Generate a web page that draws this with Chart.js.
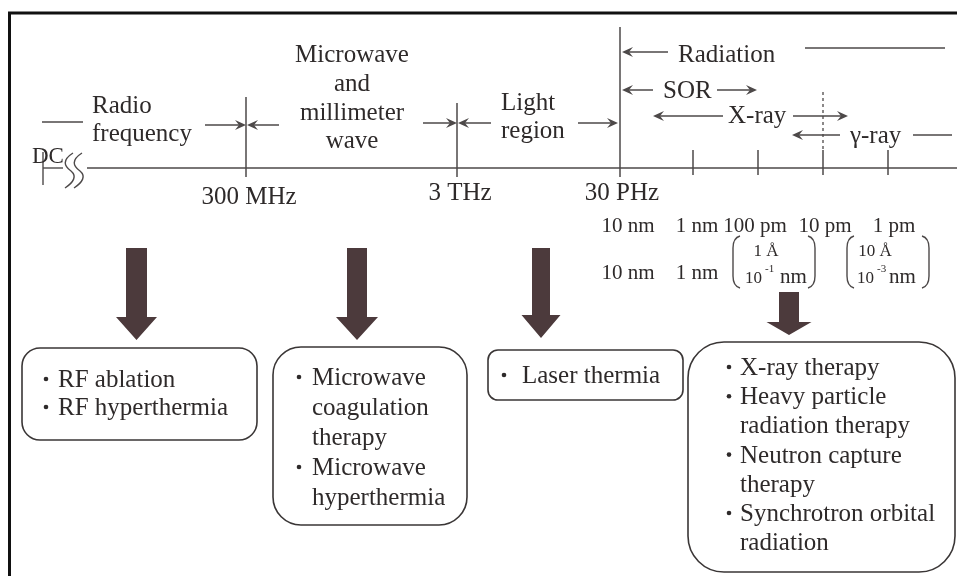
<!DOCTYPE html>
<html><head><meta charset="utf-8">
<script src="https://cdn.jsdelivr.net/npm/chart.js@4/dist/chart.umd.min.js"></script>
<style>html,body{margin:0;padding:0;background:#fff;overflow:hidden}#c{display:block}</style>
</head><body>
<canvas id="c" width="957" height="576"></canvas>
<script>
// ---------- DATA (text content) ----------
const bandNames = [['Radio', 'frequency'], ['Microwave', 'and', 'millimeter', 'wave'], ['Light', 'region'], ['Radiation']];
const subBandNames = ['SOR', 'X-ray', 'γ-ray'];
const boundaryLabels = ['300 MHz', '3 THz', '30 PHz'];
const wavelengthLabels = ['10 nm', '1 nm', '100 pm', '10 pm', '1 pm'];
const wavelengthLabelsNm = ['10 nm', '1 nm'];
const angstromLabels = ['1 Å', '10 Å'];
const angstromNmBase = ['10', '10'];
const angstromNmExp = ['-1', '-3'];
const therapyGroups = [
  [['RF ablation'], ['RF hyperthermia']],
  [['Microwave', 'coagulation', 'therapy'], ['Microwave', 'hyperthermia']],
  [['Laser thermia']],
  [['X-ray therapy'], ['Heavy particle', 'radiation therapy'], ['Neutron capture', 'therapy'], ['Synchrotron orbital', 'radiation']]
];

// ---------- LAYOUT (diagram units, mapped through the chart scales) ----------
const LAY = {
  axis: { y: 168, x0: 87, x1: 957, dcX: 43, dcY0: 152, dcY1: 185, dcLineEnd: 63 },
  boundaryX: [246, 457, 620], boundaryTop: [97, 103, 27], boundaryBottom: 177,
  boundaryLabelX: [249, 460, 622], boundaryLabelY: [204, 200, 200],
  ticksX: [693, 758, 823, 888], tickTop: 150, tickBottom: 175,
  dashed: { x: 823, y0: 92, y1: 150 },
  bandText: [
    { x: 92, align: 'left', ys: [113, 141] },
    { x: 352, align: 'center', ys: [62, 91, 120, 148] },
    { x: 501, align: 'left', ys: [110, 138] },
    { x: 678, align: 'left', ys: [62] }
  ],
  subText: [{ x: 663, y: 98 }, { x: 728, y: 123 }, { x: 850, y: 143 }],
  dcText: { x: 32, y: 163 },
  arrows: [ // [from, to, y] head at "to"
    [205, 246, 125], [279, 247, 125], [423, 457, 123], [491, 458, 123], [578, 618, 123],
    [668, 622, 52], [653, 622, 90], [717, 757, 90], [723, 653, 116], [793, 848, 116], [840, 792, 135]
  ],
  plainLines: [[42, 83, 122], [805, 945, 48], [913, 952, 135]],
  wlRow1: { xs: [628, 697, 755, 825, 894], y: 232 },
  wlRow2: { xs: [628, 697], y: 279 },
  angGroups: [
    { pl: 733, pr: 815, aCx: 766, base: 745, exp: 765, nm: 780 },
    { pl: 847, pr: 929, aCx: 875, base: 857, exp: 877, nm: 889 }
  ],
  angTop: 236, angBot: 288, angY: 256, nmY: 283,
  bigArrows: [
    { cx: 136.5, top: 248, sw: 21, headTop: 317, hw: 41, tip: 340 },
    { cx: 357, top: 248, sw: 20, headTop: 317, hw: 42, tip: 340 },
    { cx: 541, top: 248, sw: 18, headTop: 315, hw: 39, tip: 338 },
    { cx: 789, top: 292, sw: 20, headTop: 322, hw: 45, tip: 335 }
  ],
  boxes: [
    { x: 22, y: 348, w: 235, h: 92, r: 18, bx: 46, tx: 58, y0: 387, step: 28 },
    { x: 273, y: 347, w: 194, h: 178, r: 28, bx: 299, tx: 312, y0: 385, step: 30 },
    { x: 488, y: 350, w: 195, h: 50, r: 10, bx: 504, tx: 522, y0: 383, step: 29 },
    { x: 688, y: 342, w: 267, h: 230, r: 36, bx: 729, tx: 740, y0: 375, step: 29.2 }
  ]
};

const INK = '#2e2a2a';
const LINE = '#4d4949';
const ARROW = '#4c3a3c';
const SERIF = '"Liberation Serif", "Times New Roman", serif';

const diagramPlugin = {
  id: 'diagram',
  afterDraw(chart) {
    const ctx = chart.ctx;
    const xs = chart.scales.x, ys = chart.scales.y;
    const X = v => xs.getPixelForValue(v);
    const Y = v => ys.getPixelForValue(v);
    ctx.save();

    function seg(x0, y0, x1, y1, w, col) {
      ctx.beginPath(); ctx.moveTo(X(x0), Y(y0)); ctx.lineTo(X(x1), Y(y1));
      ctx.lineWidth = w || 1.5; ctx.strokeStyle = col || LINE; ctx.stroke();
    }
    function text(s, x, y, size, align) {
      ctx.font = size + 'px ' + SERIF; ctx.fillStyle = INK;
      ctx.textAlign = align || 'left'; ctx.textBaseline = 'alphabetic';
      ctx.fillText(s, X(x), Y(y));
    }
    function head(x, y, dir) {
      const px = X(x), py = Y(y);
      ctx.beginPath();
      ctx.moveTo(px, py);
      ctx.lineTo(px - dir * 11, py - 5);
      ctx.lineTo(px - dir * 7, py);
      ctx.lineTo(px - dir * 11, py + 5);
      ctx.closePath(); ctx.fillStyle = LINE; ctx.fill();
    }

    // frame
    seg(8, 13, 957, 13, 3, '#111');
    seg(9.5, 12, 9.5, 576, 3, '#111');

    // main axis
    const A = LAY.axis;
    seg(A.x0, A.y, A.x1, A.y, 1.6);
    seg(A.dcX, A.dcY0, A.dcX, A.dcY1, 1.4);
    seg(A.dcX, A.y, A.dcLineEnd, A.y, 1.4);
    // break symbol
    ctx.lineWidth = 1.4; ctx.strokeStyle = LINE;
    [66, 75].forEach(bx => {
      ctx.beginPath();
      ctx.moveTo(X(bx + 7), Y(153));
      ctx.bezierCurveTo(X(bx - 4), Y(160), X(bx - 2), Y(166), X(bx + 5), Y(171));
      ctx.bezierCurveTo(X(bx + 11), Y(176), X(bx + 8), Y(182), X(bx - 1), Y(188));
      ctx.stroke();
    });
    text('DC', LAY.dcText.x, LAY.dcText.y, 23, 'left');

    // boundaries
    LAY.boundaryX.forEach((bx, i) => {
      seg(bx, LAY.boundaryTop[i], bx, LAY.boundaryBottom, 1.5);
      text(boundaryLabels[i], LAY.boundaryLabelX[i], LAY.boundaryLabelY[i], 25, 'center');
    });
    LAY.ticksX.forEach(tx => seg(tx, LAY.tickTop, tx, LAY.tickBottom, 1.5));
    ctx.setLineDash([3, 3]);
    seg(LAY.dashed.x, LAY.dashed.y0, LAY.dashed.x, LAY.dashed.y1, 1.3);
    ctx.setLineDash([]);

    // band names
    bandNames.forEach((lines, i) => {
      const b = LAY.bandText[i];
      lines.forEach((s, j) => text(s, b.x, b.ys[j], 25, b.align));
    });
    subBandNames.forEach((s, i) => text(s, LAY.subText[i].x, LAY.subText[i].y, 25, 'left'));

    // arrows & lines
    LAY.arrows.forEach(([a, b, y]) => {
      const dir = b > a ? 1 : -1;
      seg(a, y, b - dir * 6, y, 1.5);
      head(b, y, dir);
    });
    LAY.plainLines.forEach(([a, b, y]) => seg(a, y, b, y, 1.5));

    // wavelength labels
    wavelengthLabels.forEach((s, i) => text(s, LAY.wlRow1.xs[i], LAY.wlRow1.y, 21, 'center'));
    wavelengthLabelsNm.forEach((s, i) => text(s, LAY.wlRow2.xs[i], LAY.wlRow2.y, 21, 'center'));
    LAY.angGroups.forEach((g, i) => {
      ctx.lineWidth = 1.4; ctx.strokeStyle = LINE;
      ctx.beginPath();
      ctx.moveTo(X(g.pl + 7), Y(LAY.angTop));
      ctx.quadraticCurveTo(X(g.pl), Y(LAY.angTop + 2), X(g.pl), Y(LAY.angTop + 12));
      ctx.lineTo(X(g.pl), Y(LAY.angBot - 12));
      ctx.quadraticCurveTo(X(g.pl), Y(LAY.angBot - 2), X(g.pl + 7), Y(LAY.angBot));
      ctx.stroke();
      ctx.beginPath();
      ctx.moveTo(X(g.pr - 7), Y(LAY.angTop));
      ctx.quadraticCurveTo(X(g.pr), Y(LAY.angTop + 2), X(g.pr), Y(LAY.angTop + 12));
      ctx.lineTo(X(g.pr), Y(LAY.angBot - 12));
      ctx.quadraticCurveTo(X(g.pr), Y(LAY.angBot - 2), X(g.pr - 7), Y(LAY.angBot));
      ctx.stroke();
      text(angstromLabels[i], g.aCx, LAY.angY, 17, 'center');
      text(angstromNmBase[i], g.base, LAY.nmY, 17, 'left');
      text(angstromNmExp[i], g.exp, LAY.nmY - 11, 11, 'left');
      text('nm', g.nm, LAY.nmY, 21, 'left');
    });

    // big arrows
    LAY.bigArrows.forEach(a => {
      ctx.beginPath();
      ctx.moveTo(X(a.cx - a.sw / 2), Y(a.top));
      ctx.lineTo(X(a.cx + a.sw / 2), Y(a.top));
      ctx.lineTo(X(a.cx + a.sw / 2), Y(a.headTop));
      ctx.lineTo(X(a.cx + a.hw / 2), Y(a.headTop));
      ctx.lineTo(X(a.cx), Y(a.tip));
      ctx.lineTo(X(a.cx - a.hw / 2), Y(a.headTop));
      ctx.lineTo(X(a.cx - a.sw / 2), Y(a.headTop));
      ctx.closePath();
      ctx.fillStyle = ARROW; ctx.fill();
    });

    // therapy boxes
    LAY.boxes.forEach((b, i) => {
      ctx.beginPath();
      ctx.roundRect(X(b.x), Y(b.y), X(b.x + b.w) - X(b.x), Y(b.y + b.h) - Y(b.y), b.r);
      ctx.lineWidth = 1.6; ctx.strokeStyle = '#3a3636'; ctx.stroke();
      let k = 0;
      therapyGroups[i].forEach(item => {
        item.forEach((line, j) => {
          const y = b.y0 + k * b.step;
          if (j === 0) {
            ctx.beginPath(); ctx.arc(X(b.bx), Y(y - 8), 2.3, 0, Math.PI * 2);
            ctx.fillStyle = INK; ctx.fill();
          }
          text(line, b.tx, y, 25, 'left');
          k++;
        });
      });
    });
    ctx.restore();
  }
};

new Chart(document.getElementById('c'), {
  type: 'scatter',
  data: { datasets: [{ data: [], pointRadius: 0 }] },
  options: {
    responsive: false, animation: false, devicePixelRatio: 1,
    layout: { padding: 0 },
    plugins: { legend: { display: false }, tooltip: { enabled: false } },
    scales: {
      x: { type: 'linear', min: 0, max: 957, display: false },
      y: { type: 'linear', min: 0, max: 576, reverse: true, display: false }
    }
  },
  plugins: [diagramPlugin]
});
</script>
</body></html>
